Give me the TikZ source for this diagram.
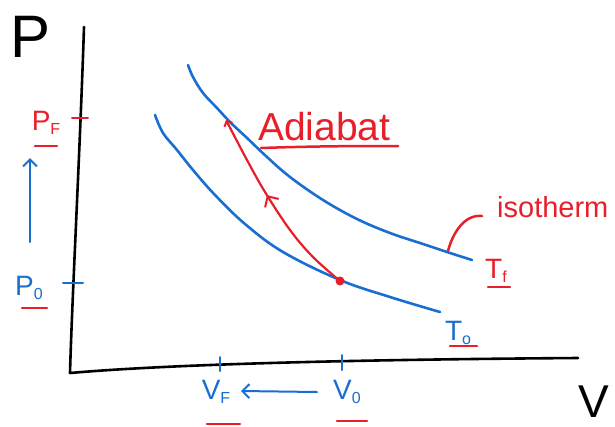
\documentclass[tikz,border=0pt]{standalone}
\usepackage{fontspec}
\setmainfont{Liberation Sans}
\usetikzlibrary{arrows.meta,decorations.markings}
\definecolor{pblue}{RGB}{25,110,210}
\definecolor{pred}{RGB}{232,30,40}
\newcommand\sublab[2]{#1\raisebox{-4pt}{\fontsize{16}{16}\selectfont #2}}
\begin{document}
\begin{tikzpicture}[x=1pt,y=-1pt, line cap=round, line join=round,
  axis/.style={line width=2.6pt, black},
  iso/.style={line width=2.6pt, pblue},
  tickb/.style={line width=2pt, pblue},
  tickr/.style={line width=2pt, pred},
  ul/.style={line width=2.5pt, pred},
  lbl/.style={inner sep=0pt, font=\fontsize{28}{28}\selectfont},
  big/.style={inner sep=0pt, font=\fontsize{60}{60}\selectfont, anchor=base west},
  barrow/.style={line width=2pt, pblue, -{Straight Barb[length=7pt,width=14pt,line width=2pt]}},
]
\useasboundingbox (0,0) rectangle (615,426);

% axes
\coordinate (ytop) at (84,27);
\coordinate (origin) at (70,373);
\coordinate (xend) at (578,358);
\draw[axis] (ytop) .. controls (80,150) and (72,300) .. (origin)
  .. controls (150,366) and (300,360) .. (xend);
\node[big] (plab) at (10,57) {P};
\node[big, font=\fontsize{46}{46}\selectfont] (vlab) at (578,417) {V};

% ticks
\draw[tickr] (72,118) -- (88,118);
\draw[tickb] (63,283) -- (83,283);
\draw[tickb] (220,357) -- (220,371);
\draw[tickb] (342,355) -- (342,370);

% axis labels
\node[lbl, text=pred] (pf) at (46,123) {\sublab{P}{F}};
\draw[ul] (35,146) -- (57,146);
\node[lbl, text=pblue] (p0) at (29,288) {\sublab{P}{0}};
\draw[ul] (22,308) -- (47,308);
\node[lbl, text=pblue] (vf) at (216,392) {\sublab{V}{F}};
\draw[ul] (207,424) -- (240,424);
\node[lbl, text=pblue] (v0) at (347,392) {\sublab{V}{0}};
\draw[ul] (337,421) -- (367,421);

% direction arrows
\coordinate (pa1) at (30,242);
\coordinate (pa2) at (30,158);
\draw[barrow] (pa1) -- (pa2);
\coordinate (va1) at (317,392);
\coordinate (va2) at (241,391);
\draw[barrow] (va1) -- (va2);

% isotherms
\draw[iso] plot[smooth, tension=0.6] coordinates {(188,65) (193,77) (203,93) (217,108) (230,122) (247,138) (267,157) (290,177) (323,200) (357,219) (390,233) (423,244) (447,252) (472,260)};
\draw[iso] plot[smooth, tension=0.6] coordinates {(155,115) (163,133) (177,150) (193,170) (215,195) (245,224) (283,252) (340,280) (390,297) (440,312)};

\node[lbl, text=pred] (tf) at (496,271) {\sublab{T}{f}};
\draw[ul] (488,287) -- (510,287);
\node[lbl, text=pblue] (t0) at (458,333) {\sublab{T}{o}};
\draw[ul] (450,346) -- (477,346);

% adiabat
\coordinate (a0) at (340,281);
\coordinate (a1) at (226,120);
\draw[line width=2.2pt, pred,
  -{Straight Barb[length=4pt,width=9pt,line width=2pt]},
  postaction={decorate},
  decoration={markings, mark=at position 0.57 with {\arrow{Straight Barb[length=8pt,width=16pt,line width=2pt]}}}]
  plot[smooth, tension=0.6] coordinates {(a0) (313,257) (290,230) (265,192) (247,160) (a1)};
\fill[pred] (a0) circle (4.5pt);

\node[inner sep=0pt, anchor=base west, text=pred, font=\fontsize{39}{39}\selectfont] (adia) at (258,140) {Adiabat};
\draw[ul] (261,148) .. controls (320,146) and (360,146) .. (398,146);

\node[inner sep=0pt, anchor=base west, text=pred, font=\fontsize{29}{29}\selectfont] (isot) at (497,217) {isotherm};
\coordinate (l0) at (482,216);
\coordinate (l1) at (448,251);
\draw[ul] (l0) .. controls (465,214) and (453,232) .. (l1);
\end{tikzpicture}
\end{document}
